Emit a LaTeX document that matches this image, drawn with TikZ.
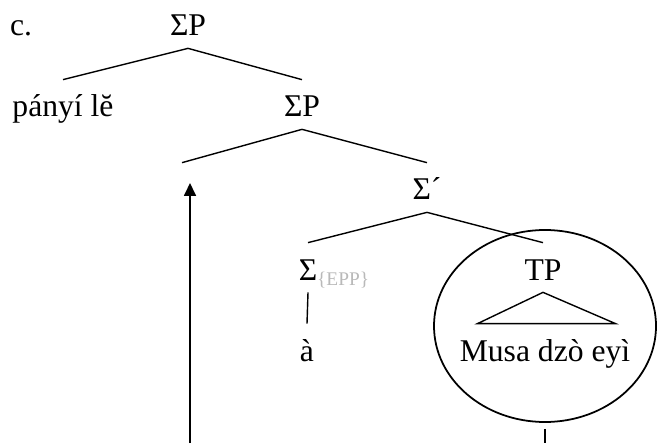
\documentclass[tikz,border=0pt]{standalone}
\usepackage{fontspec}
\setmainfont{Liberation Serif}
\usetikzlibrary{arrows.meta,positioning,shapes.geometric}

\begin{document}
\begin{tikzpicture}[
  cat/.style={font=\fontsize{18}{21}\selectfont, inner sep=0pt, text height=0.74cm, text depth=0.24cm, anchor=base},
  branch/.style={line width=0.8pt},
  move/.style={line width=1pt, -{Triangle[length=0.26cm, width=0.24cm]}},
  ]
  \useasboundingbox (0,0) rectangle (13.2,8.86);

  %--- Top of the tree ---
  \node[cat] (ex) at (0.42,8.14) {c.};
  \node[cat] (sp1) at (3.76,8.14) {ΣP};
  \node[cat] (adv) at (1.26,6.52) {pányí lĕ};
  \node[cat] (sp2) at (6.04,6.52) {ΣP};

  %--- Lower part ---
  \node[cat] (spec) at (3.64,4.86) {};
  \node[cat] (sbar) at (8.54,4.86) {Σ´};
  \node[cat] (sig) at (6.16,3.26) {Σ\rlap{\raisebox{-0.1cm}{\fontsize{11}{12}\selectfont\color{gray!55}\{EPP\}}}};
  \node[cat] (tp) at (10.86,3.26) {TP};
  \node[cat] (a) at (6.14,1.64) {à};
  \node[cat] (mus) at (10.9,1.64) {Musa dzò eyì};

  % Branches
  \draw[branch] (sp1.south) -- (adv.north);
  \draw[branch] (sp1.south) -- (sp2.north);
  \draw[branch] (sp2.south) -- (spec.north);
  \draw[branch] (sp2.south) -- (sbar.north);
  \draw[branch] (sbar.south) -- (sig.north);
  \draw[branch] (sbar.south) -- (tp.north);
  \draw[branch] (sig.south) -- (a.north);
  \draw[branch] (tp.south) -- ([xshift=0.36cm]mus.north west) -- ([xshift=-0.3cm]mus.north east) -- cycle;

  % Circled TP and movement
  \node[draw, ellipse, line width=1pt, minimum width=4.44cm, minimum height=3.84cm, inner sep=0pt] (circ) at (10.9,2.34) {};
  \coordinate (movebot) at (3.8,0);
  \coordinate (movetop) at (3.8,5.2);
  \draw[move] (movebot) -- (movetop);
  \coordinate (circbot) at (10.9,0);
  \draw[line width=1pt, shorten <=0.12cm] (circ.south) -- (circbot);
\end{tikzpicture}
\end{document}
